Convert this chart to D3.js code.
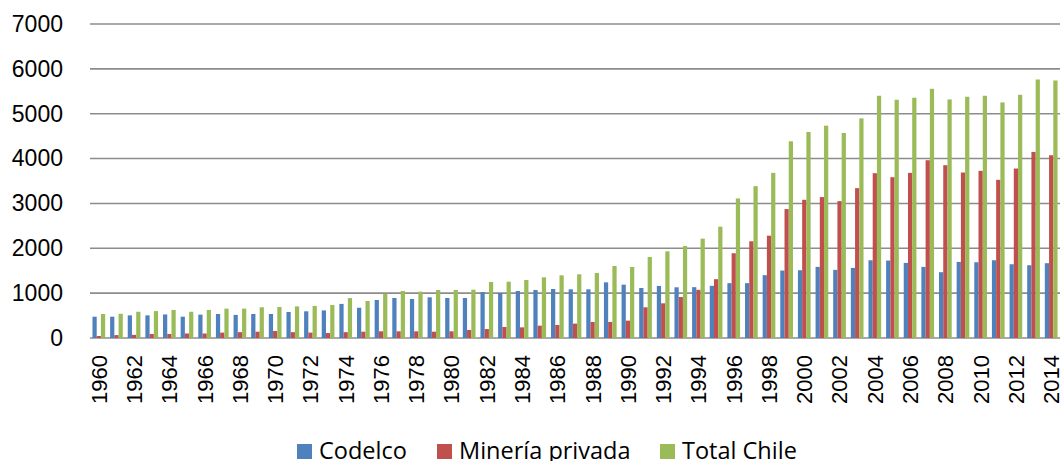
<!DOCTYPE html>
<html>
<head>
<meta charset="utf-8">
<script src="https://cdn.jsdelivr.net/npm/d3@7"></script>
<style>
  body { margin: 0; background: #fff; }
  svg { display: block; }
</style>
</head>
<body>
<svg id="chart" width="1063" height="461"></svg>
<script>
// production by year (thousand tonnes)
const years = d3.range(1960, 2015)
const series = ['Codelco', 'Minería privada', 'Total Chile']
const colors = ['#4F81BD', '#C0504D', '#9BBB59']

const codelco = [475, 475, 505, 505, 525, 475, 520, 535, 515, 535,
  535, 580, 595, 615, 760, 675, 847, 892, 870, 907,
  892, 892, 1025, 1003, 1048, 1070, 1092, 1085, 1085, 1241,
  1189, 1115, 1160, 1130, 1133, 1163, 1222, 1222, 1400, 1504,
  1511, 1585, 1519, 1563, 1733, 1726, 1674, 1585, 1467, 1696,
  1689, 1733, 1644, 1622, 1667]
const privada = [45, 65, 70, 90, 90, 100, 100, 120, 130, 140,
  155, 130, 120, 110, 130, 140, 149, 149, 149, 141,
  149, 178, 200, 245, 237, 275, 290, 320, 357, 357,
  387, 684, 773, 914, 1074, 1311, 1889, 2156, 2281, 2874,
  3081, 3141, 3052, 3341, 3674, 3585, 3681, 3963, 3852, 3689,
  3726, 3526, 3778, 4148, 4074]
const total = [535, 540, 585, 600, 625, 585, 625, 655, 655, 685,
  690, 705, 715, 735, 890, 825, 988, 1048, 1033, 1070,
  1070, 1077, 1248, 1255, 1293, 1353, 1397, 1420, 1450, 1605,
  1583, 1806, 1932, 2050, 2215, 2481, 3111, 3385, 3681, 4385,
  4593, 4733, 4570, 4896, 5400, 5311, 5356, 5556, 5319, 5378,
  5400, 5252, 5422, 5763, 5741]
const yTicks = [0, 1000, 2000, 3000, 4000, 5000, 6000, 7000]

const values = [codelco, privada, total]
const rows = years.map((yr, i) => ({ year: yr, vals: values.map(v => v[i]) }))

const svg = d3.select('#chart')
const plotLeft = 90, plotRight = 1060, plotTop = 24, plotBottom = 338

const x = d3.scaleBand()
  .domain(years)
  .range([plotLeft, plotRight])
  .paddingInner(0.28)
  .paddingOuter(0.14)

const xs = d3.scaleBand()
  .domain(d3.range(series.length))
  .range([0, x.bandwidth()])

const y = d3.scaleLinear()
  .domain([0, 7000])
  .range([plotBottom, plotTop])

// gridlines
svg.append('g')
  .selectAll('line')
  .data(yTicks)
  .join('line')
  .attr('x1', plotLeft)
  .attr('x2', plotRight)
  .attr('y1', d => y(d))
  .attr('y2', d => y(d))
  .attr('stroke', '#8c8c8c')
  .attr('stroke-width', 1.6)

// bars
svg.append('g')
  .selectAll('g')
  .data(rows)
  .join('g')
  .attr('transform', d => `translate(${x(d.year)},0)`)
  .selectAll('rect')
  .data(d => d.vals)
  .join('rect')
  .attr('x', (d, i) => xs(i))
  .attr('width', xs.bandwidth())
  .attr('y', d => y(d))
  .attr('height', d => y(0) - y(d))
  .attr('fill', (d, i) => colors[i])

// y axis
const yAxis = svg.append('g')
  .attr('transform', `translate(${plotLeft},0)`)
  .call(d3.axisLeft(y).tickValues(yTicks).tickSize(0).tickPadding(27).tickFormat(d3.format('d')))
yAxis.select('.domain').remove()
yAxis.selectAll('text')
  .attr('font-family', '"Liberation Sans", Arial, sans-serif')
  .attr('font-size', 23)
  .attr('fill', '#000')

// x axis, every other year, rotated
const xAxis = svg.append('g')
  .attr('transform', `translate(0,${plotBottom})`)
  .call(d3.axisBottom(x).tickValues(years.filter(d => d % 2 === 0)).tickSize(0))
xAxis.select('.domain').remove()
xAxis.selectAll('text')
  .attr('font-family', '"Liberation Sans", Arial, sans-serif')
  .attr('font-size', 22)
  .attr('fill', '#000')
  .attr('text-anchor', 'end')
  .attr('transform', 'rotate(-90)')
  .attr('x', -17)
  .attr('y', 0)
  .attr('dy', '0.36em')

// legend
const legendX = [297, 437, 660]
const legend = svg.append('g')
  .selectAll('g')
  .data(series)
  .join('g')
  .attr('transform', (d, i) => `translate(${legendX[i]},444)`)
legend.append('rect')
  .attr('width', 15)
  .attr('height', 15)
  .attr('fill', (d, i) => colors[i])
legend.append('text')
  .attr('x', 22)
  .attr('y', 15)
  .attr('font-family', '"Open Sans", sans-serif')
  .attr('font-size', 23.5)
  .attr('fill', '#000')
  .text(d => d)
</script>
</body>
</html>
